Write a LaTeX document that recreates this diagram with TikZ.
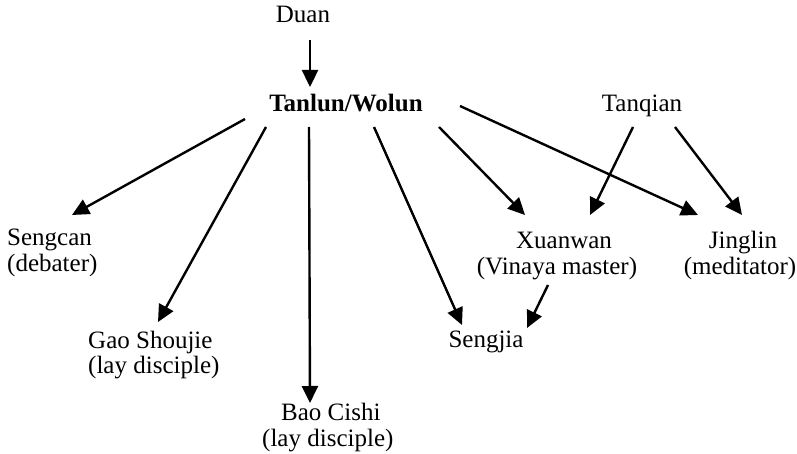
\documentclass[tikz,border=0pt]{standalone}
\usepackage{fontspec}
\setmainfont{Liberation Serif}
\usetikzlibrary{arrows.meta}
\begin{document}
\begin{tikzpicture}[x=1pt,y=-1pt,
  lbl/.style={inner sep=0pt,font=\fontsize{25}{27}\selectfont},
  arr/.style={line width=2.4pt,-{Triangle[length=17pt,width=16pt]}}]
\useasboundingbox (0,0) rectangle (797,454);
% names
\node[lbl,anchor=base] (duan) at (303,23) {Duan};
\node[lbl,anchor=base,font=\fontsize{25}{27}\selectfont\bfseries] (tanlun) at (346,112) {Tanlun/Wolun};
\node[lbl,anchor=base] (tanqian) at (642,112) {Tanqian};
\node[lbl,anchor=base west] (sengcan) at (7,245) {Sengcan};
\node[lbl,anchor=base west] (sengcanr) at (7,271) {(debater)};
\node[lbl,anchor=base west] (gao) at (88,348) {Gao Shoujie};
\node[lbl,anchor=base west] (gaor) at (88,373) {(lay disciple)};
\node[lbl,anchor=base west] (bao) at (281,420) {Bao Cishi};
\node[lbl,anchor=base west] (baor) at (262,446) {(lay disciple)};
\node[lbl,anchor=base] (xuanwan) at (564,248) {Xuanwan};
\node[lbl,anchor=base] (xuanwanr) at (557,274) {(Vinaya master)};
\node[lbl,anchor=base] (jinglin) at (743,248) {Jinglin};
\node[lbl,anchor=base] (jinglinr) at (740,274) {(meditator)};
\node[lbl,anchor=base] (sengjia) at (486,347) {Sengjia};
% arrows
\draw[arr] ([shift={(7,17)}]duan.base) -- ([shift={(-36,-25)}]tanlun.base);
\draw[arr] ([shift={(-101,7)}]tanlun.base) -- ([shift={(65,-30)}]sengcan.base west);
\draw[arr] ([shift={(-80,15)}]tanlun.base) -- ([shift={(70,-26)}]gao.base west);
\draw[arr] ([shift={(-37,15)}]tanlun.base) -- ([shift={(29,-17)}]bao.base west);
\draw[arr] ([shift={(28,15)}]tanlun.base) -- ([shift={(-24,-22)}]sengjia.base);
\draw[arr] ([shift={(93,15)}]tanlun.base) -- ([shift={(-39,-33)}]xuanwan.base);
\draw[arr] ([shift={(114,-6)}]tanlun.base) -- ([shift={(-45,-33)}]jinglin.base);
\draw[arr] ([shift={(-9,15)}]tanqian.base) -- ([shift={(26,-33)}]xuanwan.base);
\draw[arr] ([shift={(33,15)}]tanqian.base) -- ([shift={(-1,-33)}]jinglin.base);
\draw[arr] ([shift={(-16,37)}]xuanwan.base) -- ([shift={(41,-19)}]sengjia.base);
\end{tikzpicture}
\end{document}
